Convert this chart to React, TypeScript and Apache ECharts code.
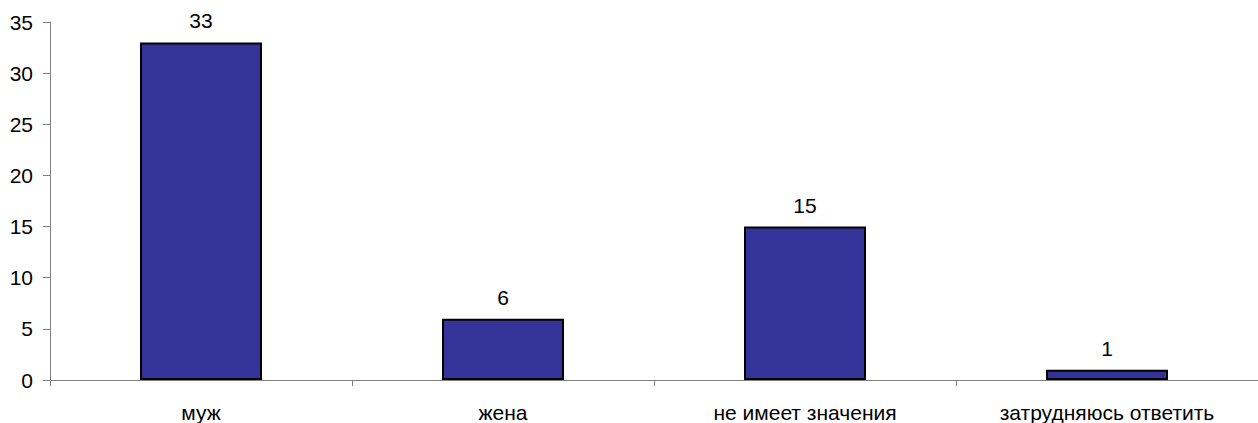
import React, { useEffect, useRef } from "react";
import * as echarts from "echarts";

const categories = ["муж", "жена", "не имеет значения", "затрудняюсь ответить"];
const values = [33, 6, 15, 1];

export default function App() {
  const ref = useRef<HTMLDivElement>(null);
  useEffect(() => {
    const chart = echarts.init(ref.current!, null, { renderer: "svg" });
    const font = "'Liberation Sans', Arial, sans-serif";
    chart.setOption({
      animation: false,
      grid: { left: 50, right: -4, top: 22, bottom: 43, containLabel: false },
      xAxis: {
        type: "category",
        data: categories,
        axisLine: { lineStyle: { color: "#808080", width: 1 } },
        axisTick: { show: true, length: 6, lineStyle: { color: "#808080" } },
        axisLabel: { color: "#000", fontSize: 21, fontFamily: font, margin: 22 },
      },
      yAxis: {
        type: "value",
        min: 0,
        max: 35,
        interval: 5,
        axisLine: { show: true, lineStyle: { color: "#808080", width: 1 } },
        axisTick: { show: true, length: 7, lineStyle: { color: "#808080" } },
        splitLine: { show: false },
        axisLabel: { color: "#000", fontSize: 21, fontFamily: font, margin: 17 },
      },
      series: [
        {
          type: "bar",
          data: values,
          barWidth: 122,
          itemStyle: { color: "#333399", borderColor: "#000", borderWidth: 2 },
          label: {
            show: true,
            position: "top",
            distance: 11,
            color: "#000",
            fontSize: 21,
            fontFamily: font,
          },
        },
      ],
    });
    return () => chart.dispose();
  }, []);
  return (
    <div
      ref={ref}
      style={{ position: "fixed", left: 0, top: 0, width: 1258, height: 423, background: "#fff" }}
    />
  );
}
